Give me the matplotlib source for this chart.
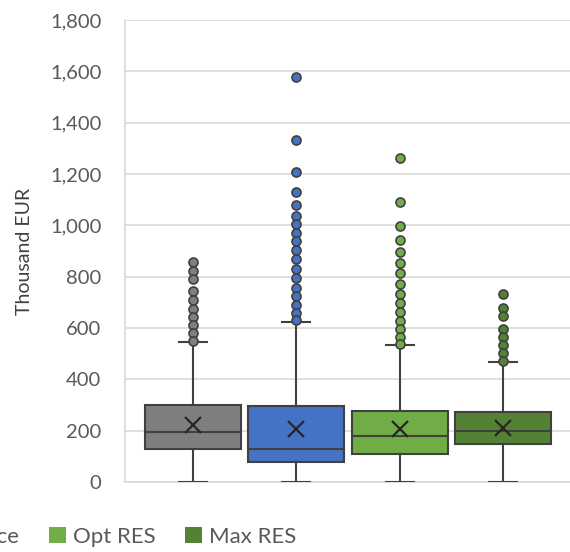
import matplotlib.pyplot as plt
from matplotlib.patches import Patch
from matplotlib.ticker import FuncFormatter

plt.rcParams['font.family'] = ['Lato', 'DejaVu Sans']

# data (thousand EUR)
labels = ['Baseline', 'Reference', 'Opt RES', 'Max RES']
colors = ['#7F7F7F', '#4472C4', '#70AD47', '#548235']
q1 = [128, 77, 110, 147]
med = [195, 130, 179, 200]
q3 = [300, 297, 278, 273]
mean = [222, 205, 205, 209]
whislo = [0, 0, 0, 0]
whishi = [545, 625, 533, 466]
fliers = [
    [858, 823, 790, 745, 710, 675, 641, 610, 579, 550],
    [1577, 1331, 1209, 1130, 1080, 1038, 1005, 971, 938, 903, 869, 829,
     794, 757, 723, 690, 660, 631],
    [1263, 1090, 997, 942, 897, 852, 814, 770, 732, 699, 664, 628, 596,
     564, 536],
    [734, 679, 647, 596, 565, 534, 501, 470],
]

fig = plt.figure(figsize=(5.7, 5.52), dpi=100)
ax = fig.add_axes([125 / 570, 70 / 552, 1 - 125 / 570, 462 / 552])

edge = '#404040'
for i in range(len(labels)):
    stats = [dict(q1=q1[i], med=med[i], q3=q3[i], mean=mean[i],
                  whislo=whislo[i], whishi=whishi[i], fliers=fliers[i])]
    ax.bxp(stats, positions=[i + 1], widths=0.93, patch_artist=True,
           showmeans=True,
           boxprops=dict(facecolor=colors[i], edgecolor=edge, linewidth=1.5),
           medianprops=dict(color=edge, linewidth=1.5),
           whiskerprops=dict(color=edge, linewidth=1.5),
           capprops=dict(color=edge, linewidth=1.5),
           capwidths=0.27,
           meanprops=dict(marker='x', markersize=11, markeredgecolor='#262626',
                          markeredgewidth=1.6),
           flierprops=dict(marker='o', markersize=6.5, markerfacecolor=colors[i],
                           markeredgecolor=edge, markeredgewidth=1.2),
           zorder=3)

ax.set_xlim(1 - 68 / 103.3, 1 + 377 / 103.3)
ax.set_ylim(0, 1800)
ax.set_yticks(range(0, 1801, 200))
ax.yaxis.set_major_formatter(FuncFormatter(lambda v, p: f'{int(v):,}'))
ax.set_xticks([])
ax.grid(axis='y', color='#D9D9D9', linewidth=1.2, zorder=0)
ax.set_axisbelow(True)
for s in ['top', 'right']:
    ax.spines[s].set_visible(False)
for s in ['left', 'bottom']:
    ax.spines[s].set_color('#D9D9D9')
    ax.spines[s].set_linewidth(1.2)
ax.tick_params(axis='y', length=0, pad=17, labelsize=14.5, labelcolor='#595959')
ax.set_ylabel('Thousand EUR', fontsize=14, color='#404040', labelpad=12)

# legend runs off the left edge, as in the reference
handles = [Patch(facecolor=c, edgecolor='none') for c in colors]
fig.legend(handles, labels, loc='center right', ncol=4, frameon=False,
           bbox_to_anchor=(316 / 570, 1 - 537 / 552), fontsize=16,
           labelcolor='#595959', handlelength=0.75, handleheight=0.75,
           handletextpad=0.3, columnspacing=1.35)

fig.savefig('out.png', dpi=100)
